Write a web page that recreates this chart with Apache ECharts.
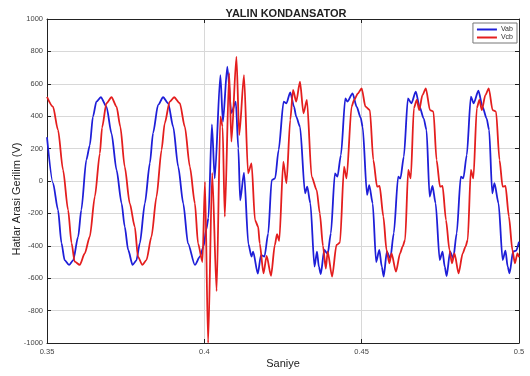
<!DOCTYPE html>
<html><head><meta charset="utf-8">
<script src="https://cdn.jsdelivr.net/npm/echarts@6/dist/echarts.min.js"></script>
<style>html,body{margin:0;padding:0;background:#fff}#c{width:530px;height:376px}</style>
</head><body><div id="c"></div>
<script>
const titleText = 'YALIN KONDANSATOR';
const xName = 'Saniye';
const yName = 'Hatlar Arasi Gerilim (V)';
const seriesNames = ['Vab', 'Vcb'];
const xRange = [0.35, 0.5, 0.05];
const yRange = [-1000, 1000, 200];

// Vab (blue) – before the switching event
const vabPre = [
 [0.3500,270],[0.3519,-12],[0.3535,-179],[0.3546,-383],[0.3556,-488],[0.3570,-518],[0.3583,-490],
 [0.3599,-344],[0.3609,-179],[0.3625,130],[0.3636,220],[0.3646,397],[0.3657,490],[0.3671,517],
 [0.3689,459],[0.3705,294],[0.3721,68],[0.3737,-138],[0.3747,-282],[0.3758,-426],[0.3772,-518],
 [0.3784,-490],[0.3795,-385],[0.3811,-138],[0.3827,111],[0.3837,296],[0.3853,469],[0.3869,517],
 [0.3885,480],[0.3901,335],[0.3917,88],[0.3933,-138],[0.3948,-385],[0.3970,-518]
];
// Vab – transient
const vabFault = [
 [0.3986,-467],[0.3998,-400],[0.4006,-300],[0.4013,-230],[0.4024,350],[0.4033,16],[0.4051,654],
 [0.4059,366],[0.4073,706],[0.4086,420],[0.4100,490],[0.4108,202],[0.4114,-120],[0.4126,52],
 [0.4140,-390],[0.4150,-467],[0.4155,-436]
];
// Vab – after
const vabSteady = [
 [0.4170,-572],[0.4180,-457],[0.4191,-467],[0.4203,-323],[0.4214,6],[0.4225,16],[0.4236,191],
 [0.4252,490],[0.4261,480],[0.4273,547],[0.4285,459],[0.4292,397],[0.4304,335],[0.4320,-76],
 [0.4327,-35],[0.4337,-138],[0.4350,-529],[0.4358,-436],[0.4364,-529],
 [0.4370,-575],[0.4381,-426],[0.4392,-450],[0.4402,-323],[0.4415,47],[0.4423,27],[0.4434,160],
 [0.4448,510],[0.4455,490],[0.4471,541],[0.4484,459],[0.4497,390],[0.4503,335],[0.4517,-86],
 [0.4524,-25],[0.4535,-138],[0.4546,-500],[0.4556,-426],[0.4564,-529],
 [0.4570,-590],[0.4580,-436],[0.4591,-477],[0.4602,-323],[0.4616,27],[0.4623,16],[0.4634,150],
 [0.4647,510],[0.4658,480],[0.4672,551],[0.4684,459],[0.4697,387],[0.4706,315],[0.4716,-97],
 [0.4725,-31],[0.4735,-138],[0.4748,-488],[0.4757,-436],[0.4764,-529],
 [0.4770,-587],[0.4781,-436],[0.4791,-477],[0.4802,-323],[0.4815,27],[0.4823,16],[0.4834,160],
 [0.4847,521],[0.4856,480],[0.4871,557],[0.4884,459],[0.4897,387],[0.4905,315],[0.4915,-76],
 [0.4922,-14],[0.4935,-138],[0.4948,-488],[0.4957,-430],[0.4964,-529],
 [0.4970,-570],[0.4981,-436],[0.4991,-430],[0.5000,-375]
];

// Vcb (red)
const vcbPre = [
 [0.3500,520],[0.3519,459],[0.3535,315],[0.3551,68],[0.3567,-179],[0.3578,-383],[0.3588,-498],
 [0.3604,-518],[0.3620,-447],[0.3636,-344],[0.3652,-97],[0.3668,171],[0.3675,330],[0.3689,480],
 [0.3705,517],[0.3721,459],[0.3733,335],[0.3747,88],[0.3763,-138],[0.3779,-282],[0.3789,-467],
 [0.3803,-518],[0.3816,-488],[0.3832,-344],[0.3848,-97],[0.3864,191],[0.3874,356],[0.3890,490],
 [0.3904,517],[0.3922,480],[0.3938,335],[0.3954,88],[0.3970,-138],[0.3980,-385],[0.3994,-500]
];
const vcbFault = [
 [0.4002,-4],[0.4012,-1000],[0.4025,50],[0.4039,-680],[0.4051,397],[0.4058,335],[0.4065,-220],
 [0.4079,666],[0.4086,243],[0.4102,767],[0.4111,284],[0.4126,654],[0.4139,47],[0.4150,109],
 [0.4161,-241],[0.4171,-282],[0.4176,-385]
];
const vcbSteady = [
 [0.4188,-570],[0.4198,-462],[0.4212,-585],[0.4224,-395],[0.4231,-328],[0.4238,-370],[0.4251,120],
 [0.4261,-14],[0.4273,377],[0.4282,562],[0.4292,490],[0.4304,613],[0.4315,418],[0.4326,500],
 [0.4341,27],[0.4357,-56],[0.4367,-200],
 [0.4377,-400],[0.4386,-540],[0.4392,-436],[0.4406,-590],[0.4420,-395],[0.4431,-381],[0.4444,88],
 [0.4452,16],[0.4468,459],[0.4476,500],[0.4488,540],[0.4500,572],[0.4512,459],[0.4526,438],
 [0.4537,130],[0.4549,-35],[0.4557,-31],
 [0.4569,-220],[0.4579,-426],[0.4588,-508],[0.4595,-447],[0.4609,-560],[0.4622,-447],[0.4630,-405],
 [0.4638,-364],[0.4648,68],[0.4656,16],[0.4666,450],[0.4675,500],[0.4683,438],[0.4693,530],
 [0.4704,572],[0.4717,438],[0.4728,428],[0.4738,130],[0.4749,-35],[0.4757,-31],
 [0.4768,-241],[0.4779,-426],[0.4787,-508],[0.4795,-447],[0.4808,-570],[0.4821,-447],[0.4830,-405],
 [0.4837,-364],[0.4847,68],[0.4855,16],[0.4866,450],[0.4874,500],[0.4882,438],[0.4893,530],
 [0.4904,572],[0.4916,438],[0.4927,428],[0.4938,130],[0.4948,-35],[0.4957,-31],
 [0.4968,-220],[0.4979,-426],[0.4987,-508],[0.4995,-447],[0.5000,-470]
];

const vab = vabPre.concat(vabFault, vabSteady);
const vcb = vcbPre.concat(vcbFault, vcbSteady);

const font = 'Liberation Sans, Arial, sans-serif';
const chart = echarts.init(document.getElementById('c'), null, {renderer: 'canvas'});
const axisCommon = {
  axisLine: {show: true, onZero: false, lineStyle: {color: '#222', width: 1}},
  axisTick: {show: true, inside: true, length: 4, lineStyle: {color: '#222'}}
};
chart.setOption({
  animation: false,
  backgroundColor: '#fff',
  title: {
    text: titleText, left: 281, top: 3, textAlign: 'center',
    textStyle: {fontFamily: font, fontSize: 11, fontWeight: 'bold', color: '#222'}
  },
  legend: {
    data: seriesNames, orient: 'vertical', right: 13, top: 23,
    icon: 'rect', itemWidth: 20, itemHeight: 2, itemGap: 1,
    padding: [3, 4, 2, 4], borderColor: '#777', borderWidth: 1, backgroundColor: '#fff',
    textStyle: {fontFamily: font, fontSize: 7, color: '#333', padding: [0, 0, 0, -1]}
  },
  grid: {left: 47, right: 11, top: 19, bottom: 33, containLabel: false, outerBoundsMode: 'none'},
  xAxis: [
    Object.assign({
      type: 'value', min: xRange[0], max: xRange[1], interval: xRange[2],
      name: xName, nameLocation: 'middle', nameGap: 15, nameMoveOverlap: false,
      nameTextStyle: {fontFamily: font, fontSize: 11, color: '#222'},
      axisLabel: {fontFamily: font, fontSize: 7.5, color: '#444', margin: 5,
        formatter: v => String(+v.toFixed(2))},
      splitLine: {show: true, lineStyle: {color: '#d8d8d8', width: 1}}
    }, axisCommon),
    Object.assign({
      type: 'value', position: 'top', min: xRange[0], max: xRange[1], interval: xRange[2],
      axisLabel: {show: false}, splitLine: {show: false}
    }, axisCommon)
  ],
  yAxis: [
    Object.assign({
      type: 'value', min: yRange[0], max: yRange[1], interval: yRange[2],
      name: yName, nameLocation: 'middle', nameGap: 25, nameMoveOverlap: false,
      nameTextStyle: {fontFamily: font, fontSize: 11, color: '#222', padding: [0, 36, 0, 0]},
      axisLabel: {fontFamily: font, fontSize: 7.5, color: '#444', margin: 4,
        formatter: v => String(v)},
      splitLine: {show: true, lineStyle: {color: '#d8d8d8', width: 1}}
    }, axisCommon),
    Object.assign({
      type: 'value', position: 'right', min: yRange[0], max: yRange[1], interval: yRange[2],
      axisLabel: {show: false}, splitLine: {show: false}
    }, axisCommon)
  ],
  series: [
    {name: seriesNames[0], type: 'line', data: vab, showSymbol: false, smooth: 0.25, smoothMonotone: 'x',
     lineStyle: {color: '#1e1ed8', width: 1.8}, itemStyle: {color: '#1e1ed8'}},
    {name: seriesNames[1], type: 'line', data: vcb, showSymbol: false, smooth: 0.25, smoothMonotone: 'x',
     lineStyle: {color: '#e41e1e', width: 1.8}, itemStyle: {color: '#e41e1e'}}
  ]
});
</script>
</body></html>
